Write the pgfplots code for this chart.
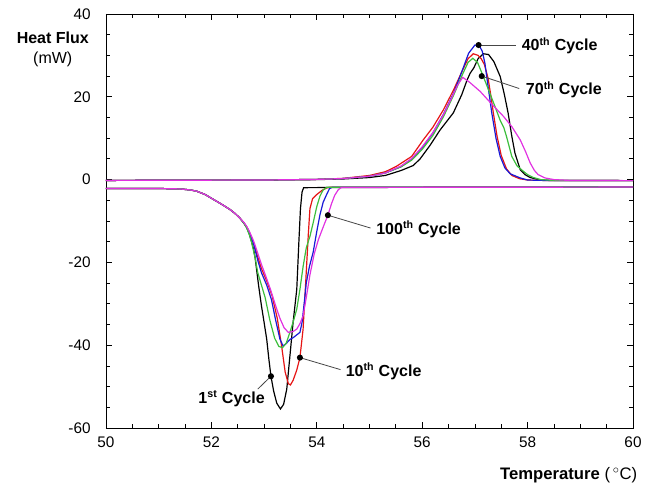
\documentclass[border=0pt]{standalone}
\usepackage{pgfplots}
\pgfplotsset{compat=1.18}
\usepackage{fontspec}
\setmainfont{Liberation Sans}

\definecolor{c1}{RGB}{0,0,0}
\definecolor{c10}{RGB}{230,20,20}
\definecolor{c40}{RGB}{25,25,215}
\definecolor{c70}{RGB}{60,190,60}
\definecolor{c100}{RGB}{225,50,225}
\definecolor{leader}{RGB}{70,70,70}

\begin{document}
\begin{tikzpicture}
\path[use as bounding box] (-79.5pt,-43.5pt) rectangle (413.25pt,321pt);
\begin{axis}[
  at={(0pt,0pt)}, anchor=south west,
  scale only axis, width=395.25pt, height=310.5pt,
  xmin=50, xmax=60, ymin=-60, ymax=40,
  xtick={50,52,...,60}, ytick={-60,-40,...,40},
  minor x tick num=3, minor y tick num=3,
  tick align=inside,
  major tick length=4.5pt, minor tick length=3pt,
  axis line style={line width=0.6pt},
  every tick/.style={line width=0.6pt, black},
  /pgf/number format/assume math mode=true,
  tick label style={font=\fontsize{11.5}{13}\selectfont},
  yticklabel style={xshift=-8pt},
  xticklabel style={yshift=-3pt},
  xlabel={\textbf{Temperature} (\,$^\circ$C)},
  ylabel={\textbf{Heat Flux}\\(mW)},
  every axis x label/.style={at={(axis description cs:1.017,-0.114)}, anchor=east,
    font=\fontsize{12.5}{15}\selectfont},
  every axis y label/.style={at={(axis description cs:-0.101,0.915)}, anchor=center,
    align=center, font=\fontsize{12}{15}\selectfont},
  every axis plot/.append style={line width=0.9pt},
]

% ---- cooling scans (exotherm downward) ----
\addplot[c1] coordinates {
(50,-2.15) (51,-2.15) (51.4,-2.25) (51.6,-2.5) (51.72,-2.8) (51.88,-3.6) (52.04,-4.8)
(52.2,-6.0) (52.35,-7.2) (52.45,-8.2) (52.54,-9.3) (52.62,-10.6) (52.67,-11.6)
(52.72,-13.2) (52.76,-14.9) (52.8,-16.8) (52.83,-18.9) (52.86,-22) (52.9,-26) (52.95,-30.5)
(53.0,-34.5) (53.05,-38.6) (53.09,-43.3) (53.13,-47.5) (53.18,-51) (53.24,-54)
(53.31,-55.4) (53.37,-54.3) (53.43,-50.6) (53.49,-42.6) (53.55,-34.5) (53.62,-26.5)
(53.66,-15) (53.69,-7) (53.72,-3) (53.75,-1.95) (54.5,-1.9) (60,-1.8)};
\addplot[c10] coordinates {
(50,-2.15) (51,-2.15) (51.4,-2.25) (51.6,-2.5) (51.72,-2.8) (51.88,-3.6) (52.04,-4.8)
(52.2,-6.0) (52.35,-7.2) (52.45,-8.2) (52.54,-9.3) (52.62,-10.5) (52.67,-11.4)
(52.72,-12.7) (52.8,-15.2) (52.88,-18.7) (52.95,-21.5) (53.05,-24.5) (53.15,-28)
(53.25,-33.5) (53.33,-40) (53.4,-46.5) (53.46,-49.3) (53.5,-49.6) (53.55,-48.5)
(53.62,-46) (53.68,-43) (53.74,-36.1) (53.78,-27) (53.81,-20) (53.84,-13) (53.87,-7)
(53.92,-4.6) (54.0,-3.6) (54.1,-2.6) (54.19,-2.0) (54.25,-1.85) (60,-1.8)};
\addplot[c40] coordinates {
(50,-2.15) (51,-2.15) (51.4,-2.25) (51.6,-2.5) (51.72,-2.8) (51.88,-3.6) (52.04,-4.8)
(52.2,-6.0) (52.35,-7.2) (52.45,-8.2) (52.54,-9.3) (52.62,-10.5) (52.67,-11.5)
(52.72,-12.8) (52.8,-15.5) (52.88,-19.5) (52.95,-22.5) (53.05,-25.5) (53.14,-29)
(53.22,-34) (53.3,-38.5) (53.36,-40.2) (53.42,-39.6) (53.49,-38.6) (53.55,-38.2)
(53.62,-37.5) (53.68,-36.9) (53.72,-34.5) (53.76,-30) (53.8,-25) (53.86,-21)
(53.93,-17.6) (54.0,-12.5) (54.06,-8.5) (54.12,-5.5) (54.19,-3.5) (54.24,-2.2)
(54.29,-1.85) (60,-1.8)};
\addplot[c70] coordinates {
(50,-2.15) (51,-2.15) (51.4,-2.25) (51.6,-2.5) (51.72,-2.8) (51.88,-3.6) (52.04,-4.8)
(52.2,-6.0) (52.35,-7.2) (52.45,-8.2) (52.54,-9.3) (52.62,-10.6) (52.67,-11.7)
(52.72,-13.3) (52.76,-15) (52.83,-18.9) (52.88,-22.5) (52.95,-25.5) (53.02,-28.5)
(53.11,-34) (53.2,-38.3) (53.28,-40.3) (53.35,-40.6) (53.42,-39.5) (53.49,-36.9)
(53.56,-34) (53.62,-31.3) (53.68,-26.5) (53.74,-21) (53.8,-16.5) (53.87,-13.7)
(53.93,-10.5) (54.0,-6.5) (54.06,-4) (54.12,-2.5) (54.19,-1.85) (60,-1.8)};
\addplot[c100] coordinates {
(50,-2.15) (51,-2.15) (51.4,-2.25) (51.6,-2.5) (51.72,-2.8) (51.88,-3.6) (52.04,-4.8)
(52.2,-6.0) (52.35,-7.2) (52.45,-8.2) (52.54,-9.3) (52.62,-10.4) (52.67,-11.3)
(52.72,-12.5) (52.8,-14.8) (52.88,-17.8) (52.95,-20.5) (53.02,-22.9) (53.12,-26.5)
(53.22,-30.5) (53.3,-33.5) (53.38,-35.8) (53.46,-36.9) (53.55,-36.7) (53.62,-36.1)
(53.68,-34.8) (53.74,-32.9) (53.8,-28.5) (53.87,-23) (53.95,-18) (54.03,-14.5)
(54.12,-11.5) (54.21,-8.6) (54.28,-5.8) (54.34,-3.8) (54.41,-2.4) (54.47,-1.9) (60,-1.8)};

% ---- heating scans (melting peak upward) ----
\addplot[c1] coordinates {
(50,-0.2) (53,-0.1) (54,0.0) (54.5,0.15) (55.0,0.5) (55.3,1.0) (55.6,2.2) (55.83,3.4)
(55.96,5.0) (56.15,8.3) (56.34,12) (56.59,16.1) (56.75,20.5) (56.85,24) (56.91,25.7)
(56.98,27) (57.06,29.2) (57.16,30.4) (57.26,30.2) (57.36,28.5) (57.48,24.9) (57.56,20.5)
(57.63,16.1) (57.7,10.5) (57.76,6.4) (57.86,2.4) (57.95,1.2) (58.05,0.5) (58.2,0) (58.4,-0.2)
(60,-0.25)};
\addplot[c10] coordinates {
(50,-0.2) (53,-0.1) (54,0.05) (54.5,0.3) (55.0,1.0) (55.3,1.9) (55.51,3.2) (55.8,5.6)
(56.02,9.6) (56.2,12.6) (56.4,16.8) (56.6,21.8) (56.75,26) (56.87,29.2) (56.97,30.4)
(57.06,30.0) (57.12,29.2) (57.18,27.8) (57.25,24.5) (57.3,20.5) (57.35,16.1) (57.42,10.5)
(57.5,5.8) (57.6,2.6) (57.7,1.0) (57.85,0.2) (58.0,-0.1) (58.3,-0.2) (60,-0.25)};
\addplot[c40] coordinates {
(50,-0.2) (53,-0.1) (54,0.05) (54.5,0.25) (55.0,0.8) (55.3,1.6) (55.6,3.1) (55.8,4.9)
(56.0,7.7) (56.2,11.2) (56.4,15.7) (56.6,21) (56.75,26) (56.88,30.5) (57.0,32.5) (57.08,32.4)
(57.14,31) (57.19,28.1) (57.25,22.5) (57.32,16.1) (57.4,10) (57.48,5.6) (57.57,2.8)
(57.67,1.4) (57.86,0.4) (58.0,-0.1) (58.3,-0.2) (60,-0.25)};
\addplot[c70] coordinates {
(50,-0.2) (53,-0.1) (54,0.05) (54.5,0.25) (55.0,0.8) (55.3,1.6) (55.6,3.1) (55.8,4.7)
(56.0,7.3) (56.2,10.6) (56.4,15.1) (56.6,20.5) (56.75,25) (56.87,28.3) (56.96,29.3)
(57.05,28.3) (57.16,24.9) (57.27,21.3) (57.38,17.7) (57.48,14.3) (57.55,12.5) (57.6,10.4)
(57.65,8) (57.7,5.6) (57.8,3.3) (57.92,2.0) (58.0,1.2) (58.11,0.5) (58.25,0) (58.5,-0.2)
(60,-0.25)};
\addplot[c100] coordinates {
(50,-0.2) (53,-0.1) (54,0.05) (54.5,0.25) (55.0,0.8) (55.3,1.6) (55.6,3.3) (55.8,5.1)
(56.0,7.9) (56.2,11.3) (56.4,15.6) (56.55,19.5) (56.67,22.8) (56.77,24.7) (56.9,23.5)
(57.1,21.3) (57.3,18.5) (57.54,15.3) (57.7,12.8) (57.86,9.6) (57.96,6.8) (58.05,4.0)
(58.13,2.2) (58.2,1.2) (58.33,0.4) (58.5,0) (58.8,-0.2) (60,-0.25)};

% ---- cycle labels ----
\addplot[leader, line width=0.6pt] coordinates {(57.07,32.5) (57.78,32.5)};
\addplot[leader, line width=0.6pt] coordinates {(57.13,25.0) (57.84,22.0)};
\addplot[leader, line width=0.6pt] coordinates {(54.21,-8.6) (55.02,-11.7)};
\addplot[leader, line width=0.6pt] coordinates {(53.68,-43.0) (54.45,-45.9)};
\addplot[leader, line width=0.6pt] coordinates {(53.13,-47.5) (52.88,-50.6)};
\addplot[only marks, mark=*, mark size=1.8pt, black] coordinates {
(57.07,32.5) (57.13,25.0) (54.21,-8.6) (53.68,-43.0) (53.13,-47.5)};

\node[anchor=west, font=\fontsize{12}{14}\selectfont\bfseries] at (axis cs:57.8,32.3) {40\textsuperscript{th} Cycle};
\node[anchor=west, font=\fontsize{12}{14}\selectfont\bfseries] at (axis cs:57.88,21.7) {70\textsuperscript{th} Cycle};
\node[anchor=west, font=\fontsize{12}{14}\selectfont\bfseries] at (axis cs:55.04,-12.0) {100\textsuperscript{th} Cycle};
\node[anchor=west, font=\fontsize{12}{14}\selectfont\bfseries] at (axis cs:54.46,-46.3) {10\textsuperscript{th} Cycle};
\node[anchor=east, font=\fontsize{12}{14}\selectfont\bfseries] at (axis cs:53.1,-53.0) {1\textsuperscript{st} Cycle};
\end{axis}
\end{tikzpicture}
\end{document}
